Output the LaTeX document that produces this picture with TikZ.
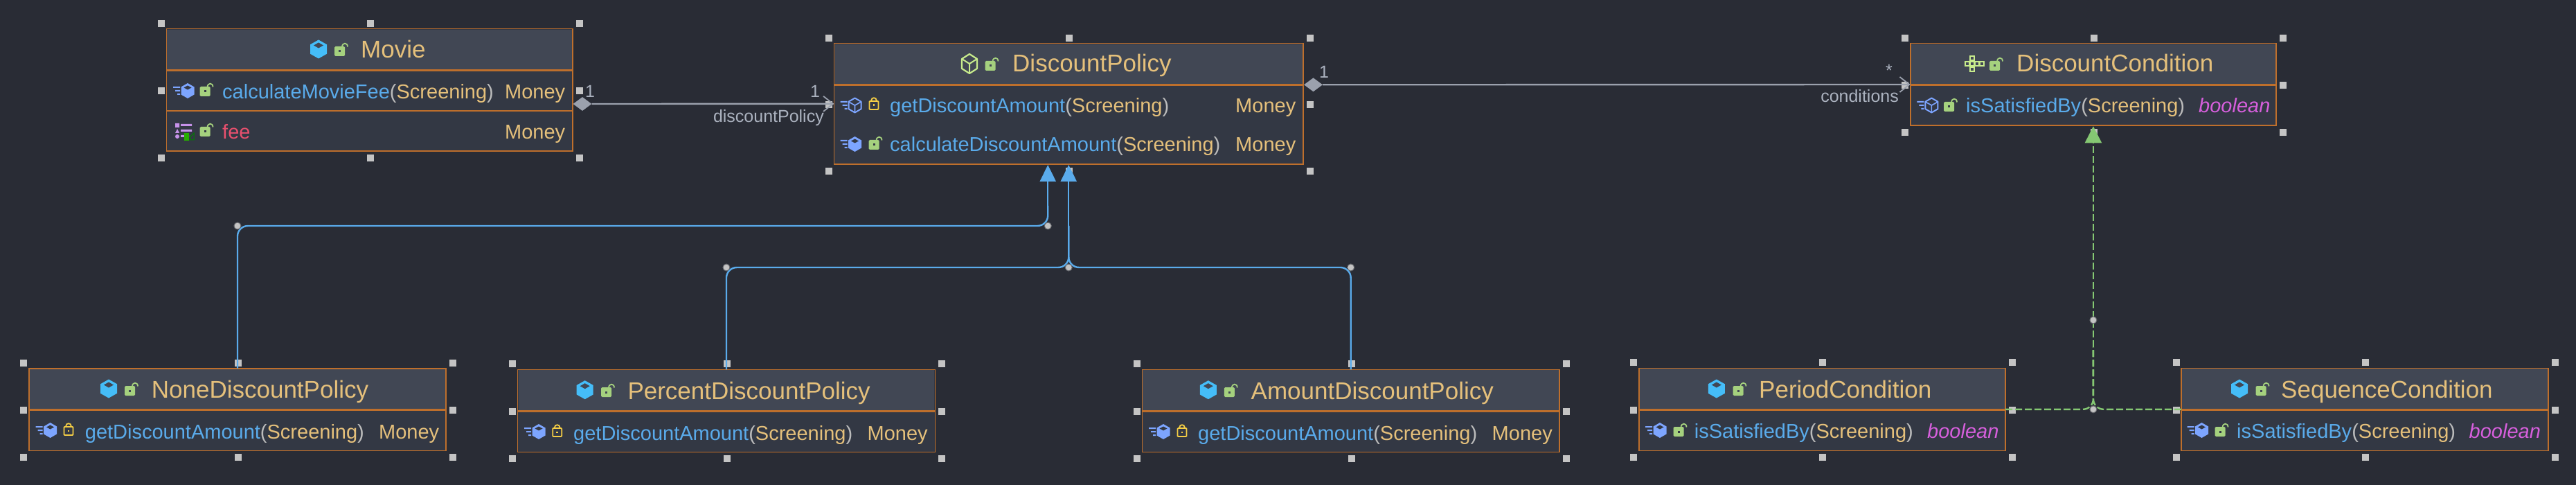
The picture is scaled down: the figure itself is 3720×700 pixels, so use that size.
\documentclass[tikz,border=0pt]{standalone}
\usepackage{fontspec}
\setmainfont{Liberation Sans}
\usetikzlibrary{arrows.meta,shapes.geometric,calc}
\definecolor{bgc}{HTML}{292C35}
\definecolor{headc}{HTML}{414754}
\definecolor{bodyc}{HTML}{333844}
\definecolor{borderc}{HTML}{BE6F2C}
\definecolor{yelc}{HTML}{E5C07B}
\definecolor{bluec}{HTML}{5AABEB}
\definecolor{parc}{HTML}{BBBBBB}
\definecolor{redc}{HTML}{E8506E}
\definecolor{magc}{HTML}{D65FDC}
\definecolor{greyc}{HTML}{9BA1AD}
\definecolor{labc}{HTML}{ABB2BF}
\definecolor{greenc}{HTML}{85C873}
\definecolor{lockc}{HTML}{A5D17E}
\definecolor{cubec}{HTML}{45BDF8}
\definecolor{methc}{HTML}{7DA5FF}
\definecolor{limec}{HTML}{C8EC8C}
\definecolor{lockyc}{HTML}{F5CE45}
\definecolor{purpc}{HTML}{C792EA}
\definecolor{handc}{HTML}{C4C4C4}
\newcommand{\ttfs}{\fontsize{35}{35}\selectfont}
\newcommand{\rowfs}{\fontsize{29}{29}\selectfont}
\newcommand{\labfs}{\fontsize{25}{25}\selectfont}
\tikzset{
  x=1pt,y=-1pt,
  classbody/.style={draw=borderc,line width=1.6pt,fill=bodyc,inner sep=0pt,outer sep=0pt},
  classhead/.style={fill=headc,inner sep=0pt,outer sep=0pt},
  headrule/.style={draw=borderc,line width=2.6pt},
  handlebox/.style={fill=handc,draw=none,minimum size=10pt,inner sep=0pt},
  benddot/.style={circle,fill=handc,draw=handc!40!bgc,line width=1pt,minimum size=10pt,inner sep=0pt},
  titletext/.style={anchor=base west,inner sep=0pt,text=yelc,font=\ttfs},
  rowtext/.style={anchor=base west,inner sep=0pt,font=\rowfs},
  typetext/.style={rowtext,text=yelc},
  booltext/.style={rowtext,text=magc,font=\rowfs\itshape},
  labtext/.style={inner sep=0pt,text=labc,font=\labfs},
  compo/.style={diamond,fill=greyc,draw=none,inner sep=0pt,minimum width=27pt,minimum height=20pt,aspect=1.35},
  assocline/.style={draw=greyc,line width=2.4pt,-{Straight Barb[length=14pt,width=22pt,line width=1.8pt]}},
  implline/.style={draw=bluec,line width=2.4pt,rounded corners=15pt},
  realline/.style={draw=greenc,line width=2.4pt,dash pattern=on 10pt off 4pt,rounded corners=15pt},
  blueshaft/.style={draw=bluec,line width=2.4pt,-{Triangle[length=24pt,width=23pt,fill=bluec]}},
  greenshaft/.style={draw=greenc,line width=2.4pt,dash pattern=on 10pt off 4pt,-{Triangle[length=24pt,width=24pt,fill=greenc,sep=0pt]}}
}
% class box: name, x0, y0, x1, yhead, y1
\newcommand{\umlclass}[6]{%
  \foreach \hx/\hy/\hn in {%
    {#2-7.5}/{#3-8}/a,{(#2+#4)/2+1}/{#3-8}/b,{#4+10}/{#3-8}/c,%
    {#2-7.5}/{(#3+#6)/2+1}/d,{#4+10}/{(#3+#6)/2+1}/e,%
    {#2-7.5}/{#6+10}/f,{(#2+#4)/2+1}/{#6+10}/g,{#4+10}/{#6+10}/h}{%
    \pgfmathsetmacro{\hxx}{\hx}\pgfmathsetmacro{\hyy}{\hy}%
    \node[handlebox] (#1-\hn) at (\hxx,\hyy) {};}%
  \node[classbody,anchor=north west,minimum width={(#4-#2)*1pt},minimum height={(#6-#3)*1pt}] (#1) at (#2,#3) {};%
  \node[classhead,anchor=north west,minimum width={(#4-#2-2)*1pt},minimum height={(#5-#3-1)*1pt}] (#1-head) at (#2+1,#3+1) {};%
  \draw[headrule] (#1.west |- 0,#5) -- (#1.east |- 0,#5);%
}
% icons
\newcommand{\hexpath}[2]{(0,-#2/2) -- (#1/2,-#2/4) -- (#1/2,#2/4) -- (0,#2/2) -- (-#1/2,#2/4) -- (-#1/2,-#2/4) -- cycle}
\newcommand{\classicon}[2]{\begin{scope}[shift={(#1,#2)}]
  \fill[cubec] \hexpath{24}{27};
  \fill[headc] (0,-9.5) -- (7,-5.5) -- (0,-1.5) -- (-7,-5.5) -- cycle;
\end{scope}}
\newcommand{\abstracticon}[2]{\begin{scope}[shift={(#1,#2)}]
  \draw[limec,line width=2.2pt,line join=round] \hexpath{22}{28};
  \draw[limec,line width=2pt] (-11,-7) -- (0,0) -- (11,-7) (0,0) -- (0,14);
\end{scope}}
\newcommand{\interfaceicon}[2]{\begin{scope}[shift={(#1,#2)}]
  \foreach \cx/\cy in {-4/-8,-11/0,-4/0,3/0,10/0,-4/8}{%
    \draw[limec,line width=2pt] (\cx-3,\cy-3) rectangle (\cx+3,\cy+3);}
\end{scope}}
\newcommand{\speedlines}{%
  \fill[methc] (-21,-6) rectangle (-11,-4) (-18,-1) rectangle (-11,1) (-15,4) rectangle (-11,6);}
\newcommand{\methfilled}[2]{\begin{scope}[shift={(#1,#2)}]
  \speedlines
  \fill[methc] \hexpath{19}{22};
  \fill[bodyc] (0,-7.5) -- (5.5,-4.5) -- (0,-1.5) -- (-5.5,-4.5) -- cycle;
\end{scope}}
\newcommand{\methoutline}[2]{\begin{scope}[shift={(#1,#2)}]
  \speedlines
  \draw[methc,line width=2pt,line join=round] \hexpath{18}{21};
  \draw[methc,line width=1.6pt] (-9,-5) -- (0,0) -- (9,-5) (0,0) -- (0,10.5);
\end{scope}}
\newcommand{\lockopen}[3]{\begin{scope}[shift={(#1,#2+1)}]
  \draw[lockc,line width=1.8pt] (3.5,0) .. controls (3.5,-7) and (11.5,-7) .. (11.5,-0.5);
  \fill[lockc,rounded corners=1.5pt] (-7.5,-1) rectangle (7.5,13);
  \fill[#3] (-1.5,4.5) rectangle (1.5,7.5);
\end{scope}}
\newcommand{\lockclosed}[2]{\begin{scope}[shift={(#1,#2)}]
  \draw[lockyc,line width=1.8pt,rounded corners=1pt] (-6.5,-1) rectangle (6.5,11);
  \draw[lockyc,line width=1.8pt] (-3.8,-1) -- (-3.8,-2) .. controls (-3.8,-7) and (3.8,-7) .. (3.8,-2) -- (3.8,-1);
  \fill[lockyc] (-1.3,3.5) rectangle (1.3,6.2);
\end{scope}}
\newcommand{\fieldicon}[2]{\begin{scope}[shift={(#1,#2)}]
  \fill[purpc] (0,0) rectangle (6,6) (0,14) -- (3,8) -- (6,14) -- cycle;
  \fill[purpc] (3,19) circle[radius=3];
  \fill[purpc] (8,1) rectangle (24,4) (8,9) rectangle (24,12) (8,17) rectangle (20,20);
  \fill[green!60!black!80!lime] (13,14) rectangle (20,25);
  \draw[green!50!black,line width=1pt] (20,24) -- (27,24) -- (27,14) -- (22,19) (22,19)--(22,24);
\end{scope}}
\newcommand{\methrow}[5]{% name, x, baseline, method, (closing x not needed)
  \node[rowtext] (#1) at (#2,#3) {\textcolor{bluec}{#4}\textcolor{parc}{(}\textcolor{yelc}{Screening}\textcolor{parc}{)}};}
\begin{document}
\begin{tikzpicture}
\useasboundingbox (0,0) rectangle (3720,700);
\fill[bgc] (0,0) rectangle (3720,700);

% ---- classes
\umlclass{movie}{240.4}{41.7}{827}{101.7}{218}
\draw[headrule] (movie.west |- 0,160) -- (movie.east |- 0,160);
\umlclass{policy}{1204.5}{62.7}{1882}{122.7}{237}
\umlclass{dc}{2758.8}{62.7}{3287}{122.7}{181.3}
\umlclass{none}{41.9}{531.7}{644}{591.7}{650.3}
\umlclass{percent}{747.5}{533.3}{1350.4}{593.7}{652.3}
\umlclass{amount}{1649.4}{533.3}{2252}{593.7}{652.3}
\umlclass{period}{2366.9}{531.3}{2896}{591.7}{650.3}
\umlclass{seq}{3150}{531.3}{3680}{591.7}{650.3}

% ---- Movie
\classicon{460}{71}
\lockopen{490.5}{67}{headc}
\node[titletext] (t-movie) at (521,84) {Movie};
\methfilled{271}{131}
\lockopen{296}{125}{bodyc}
\methrow{r-movie}{321}{143}{calculateMovieFee}{}
\node[typetext] (ty-movie1) at (729,143) {Money};
\fieldicon{253}{178}
\lockopen{296}{183}{bodyc}
\node[rowtext,text=redc] (r-fee) at (321,201) {fee};
\node[typetext] (ty-movie2) at (729,201) {Money};

% ---- DiscountPolicy
\abstracticon{1400}{92}
\lockopen{1430}{88}{headc}
\node[titletext] (t-policy) at (1462,104) {DiscountPolicy};
\methoutline{1234.5}{152}
\lockclosed{1262}{147}
\methrow{r-policy1}{1285}{163}{getDiscountAmount}{}
\node[typetext] (ty-policy1) at (1784,163) {Money};
\methfilled{1234.5}{208}
\lockopen{1262}{202}{bodyc}
\methrow{r-policy2}{1285}{219}{calculateDiscountAmount}{}
\node[typetext] (ty-policy2) at (1784,219) {Money};

% ---- DiscountCondition
\interfaceicon{2852}{92}
\lockopen{2880.5}{88}{headc}
\node[titletext] (t-dc) at (2912,104) {DiscountCondition};
\methoutline{2789.4}{152}
\lockopen{2814.5}{147}{bodyc}
\methrow{r-dc}{2839}{163}{isSatisfiedBy}{}
\node[booltext] (ty-dc) at (3175,163) {boolean};

% ---- NoneDiscountPolicy
\classicon{157}{561}
\lockopen{187.5}{557}{headc}
\node[titletext] (t-none) at (218.7,574) {NoneDiscountPolicy};
\methfilled{72.6}{621}
\lockclosed{99}{617}
\methrow{r-none}{122.7}{633}{getDiscountAmount}{}
\node[typetext] (ty-none) at (547,633) {Money};

% ---- PercentDiscountPolicy
\classicon{844.7}{562.7}
\lockopen{875.5}{559}{headc}
\node[titletext] (t-percent) at (906.3,576) {PercentDiscountPolicy};
\methfilled{778}{623}
\lockclosed{804.7}{619}
\methrow{r-percent}{828}{635}{getDiscountAmount}{}
\node[typetext] (ty-percent) at (1252.4,635) {Money};

% ---- AmountDiscountPolicy
\classicon{1744.8}{562.7}
\lockopen{1775.3}{559}{headc}
\node[titletext] (t-amount) at (1806.5,576) {AmountDiscountPolicy};
\methfilled{1680}{623}
\lockclosed{1707}{619}
\methrow{r-amount}{1730}{635}{getDiscountAmount}{}
\node[typetext] (ty-amount) at (2154.5,635) {Money};

% ---- PeriodCondition
\classicon{2478.8}{561}
\lockopen{2510}{557}{headc}
\node[titletext] (t-period) at (2540,574) {PeriodCondition};
\methfilled{2397}{621}
\lockopen{2424}{616}{bodyc}
\methrow{r-period}{2446.7}{632}{isSatisfiedBy}{}
\node[booltext] (ty-period) at (2783,632) {boolean};

% ---- SequenceCondition
\classicon{3234}{561}
\lockopen{3265}{557}{headc}
\node[titletext] (t-seq) at (3294,574) {SequenceCondition};
\methfilled{3179.5}{621}
\lockopen{3206}{616}{bodyc}
\methrow{r-seq}{3230}{632}{isSatisfiedBy}{}
\node[booltext] (ty-seq) at (3565.5,632) {boolean};

% ---- bend handles (positions)
\coordinate (cNone) at (none.north |- 0,326);
\coordinate (cNoneEnd) at ([xshift=-30pt]policy.south |- 0,326);
\coordinate (cPercent) at (percent.north |- 0,386);
\coordinate (cAmount) at (amount.north |- 0,386);
\coordinate (cJoin) at (policy.south |- 0,386);
\coordinate (cGreen) at (dc.south |- period.east);
\coordinate (cGreenMid) at (dc.south |- 0,462);

% ---- associations
\node[compo] (dMovie) at (841,150) {};
\node[compo] (dPolicy) at (1896.5,122.3) {};
\draw[assocline] (dMovie) -- (policy.west);
\draw[assocline] (dPolicy) -- (dc.west);
\node[labtext] (m1) at (852,132) {1};
\node[labtext] (m2) at (1177,132) {1};
\node[labtext,anchor=base east] (m3) at (1190,176.7) {discountPolicy};
\node[labtext] (m4) at (1912,104) {1};
\node[labtext] (m5) at (2728,102) {*};
\node[labtext,anchor=base east] (m6) at (2742,148) {conditions};

% ---- generalisations
\draw[implline] (none.north) -- (cNone) -- (cNoneEnd) -- ([xshift=-30pt,yshift=-60pt]policy.south);
\draw[blueshaft] ([xshift=-30pt,yshift=-70pt]policy.south) -- ([xshift=-30pt,yshift=-1pt]policy.south);
\draw[implline] (percent.north) -- (cPercent) -- (cJoin) -- ([yshift=60pt]cJoin);
\draw[implline] (amount.north) -- (cAmount) -- (cJoin) -- ([yshift=60pt]cJoin);
\draw[blueshaft] ([yshift=60pt]cJoin) -- ([yshift=-1pt]policy.south);

% ---- realisations
\draw[realline] (period.east) -- (cGreen) -- ([yshift=90pt]cGreen);
\draw[realline] (seq.west) -- (cGreen) -- ([yshift=90pt]cGreen);
\draw[greenshaft] ([yshift=90pt]cGreen) -- ([yshift=-1pt]dc.south);

% ---- bend dots
\node[benddot] (bNone) at (cNone) {};
\node[benddot] (bNoneEnd) at (cNoneEnd) {};
\node[benddot] (bPercent) at (cPercent) {};
\node[benddot] (bAmount) at (cAmount) {};
\node[benddot] (bJoin) at (cJoin) {};
\node[benddot] (bGreen) at (cGreen) {};
\node[benddot] (bGreenMid) at (cGreenMid) {};
\end{tikzpicture}
\end{document}
